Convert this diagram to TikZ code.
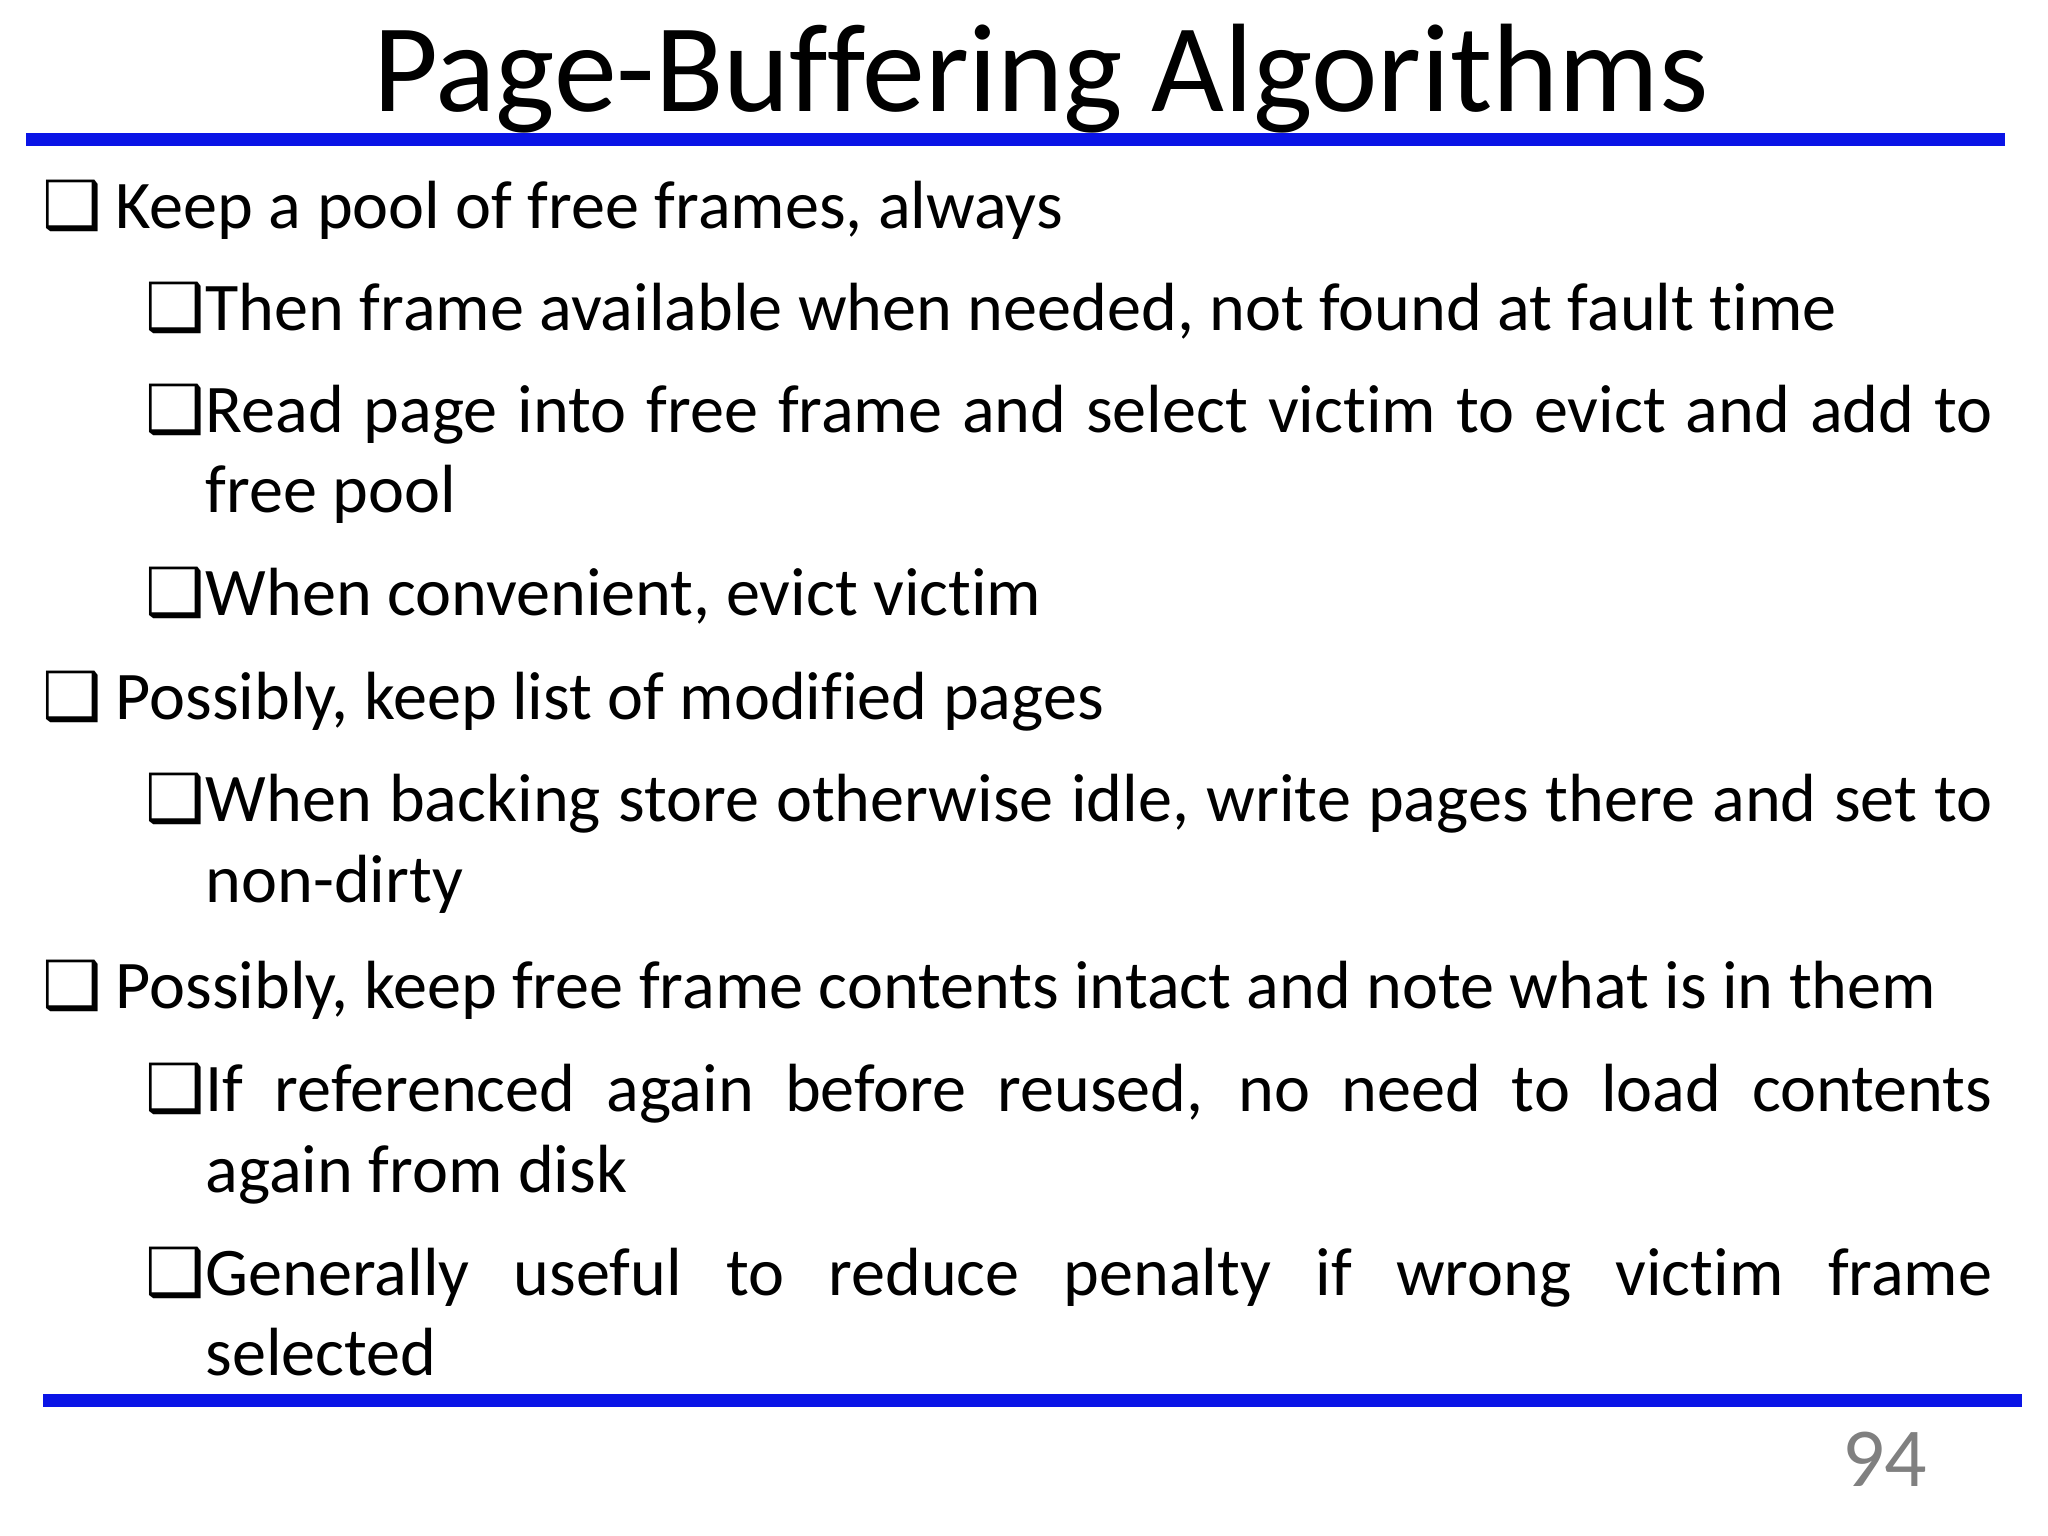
\documentclass[tikz,border=0pt]{standalone}
\usepackage{fontspec}
\setmainfont{Carlito}[Ligatures=NoCommon]
\newfontfamily\symf{DejaVu Sans}
\definecolor{barblue}{RGB}{10,20,230}
\begin{document}
\begin{tikzpicture}[x=0.1313mm,y=-0.1313mm,
  body/.style={anchor=base west,inner sep=0,font=\fontsize{19.5}{23}\selectfont},
  box/.style={anchor=base west,inner sep=0,font=\symf\fontsize{19}{23}\selectfont},
  bar/.style={draw=barblue,line width=1.3mm}]
\useasboundingbox (0,0) rectangle (1568,1176);
\node[anchor=base,inner sep=0,font=\fontsize{36}{40}\selectfont] (title) at (797,85) {Page-Buffering Algorithms};
\coordinate (t1) at (20,107); \coordinate (t2) at (1535,107);
\draw[bar] (t1) -- (t2);
\coordinate (b1) at (33,1072); \coordinate (b2) at (1548,1072);
\draw[bar] (b1) -- (b2);
\node[anchor=base,inner sep=0,text=gray,font=\fontsize{24}{26}\selectfont] (pn) at (1443,1138) {94};
% level 1
\foreach \n/\y/\t in {a/175/{Keep a pool of free frames, always},
  e/551/{Possibly, keep list of modified pages},
  g/772/{Possibly, keep free frame contents intact and note what is in them}}{
  \node[box] (bx\n) at (32,\y) {❑};
  \node[body] (tx\n) at (88,\y) {\t};
}
% level 2 boxes
\foreach \n/\y in {b/253,c/331,d/471,f/629,h/851,i/992}{
  \node[box] (bx\n) at (111,\y) {❑};
}
\node[body] (txb) at (157,253) {Then frame available when needed, not found at fault time};
\node[body] (txc) at (157,331) {\makebox[179.6mm][s]{Read page into free frame and select victim to evict and add to}};
\node[body] (txc2) at (157,392) {free pool};
\node[body] (txd) at (157,471) {When convenient, evict victim};
\node[body] (txf) at (157,629) {\makebox[179.6mm][s]{When backing store otherwise idle, write pages there and set to}};
\node[body] (txf2) at (157,691) {non-dirty};
\node[body] (txh) at (157,851) {\makebox[179.6mm][s]{If referenced again before reused, no need to load contents}};
\node[body] (txh2) at (157,913) {again from disk};
\node[body] (txi) at (157,992) {\makebox[179.6mm][s]{Generally useful to reduce penalty if wrong victim frame}};
\node[body] (txi2) at (157,1053) {selected};
\end{tikzpicture}
\end{document}
